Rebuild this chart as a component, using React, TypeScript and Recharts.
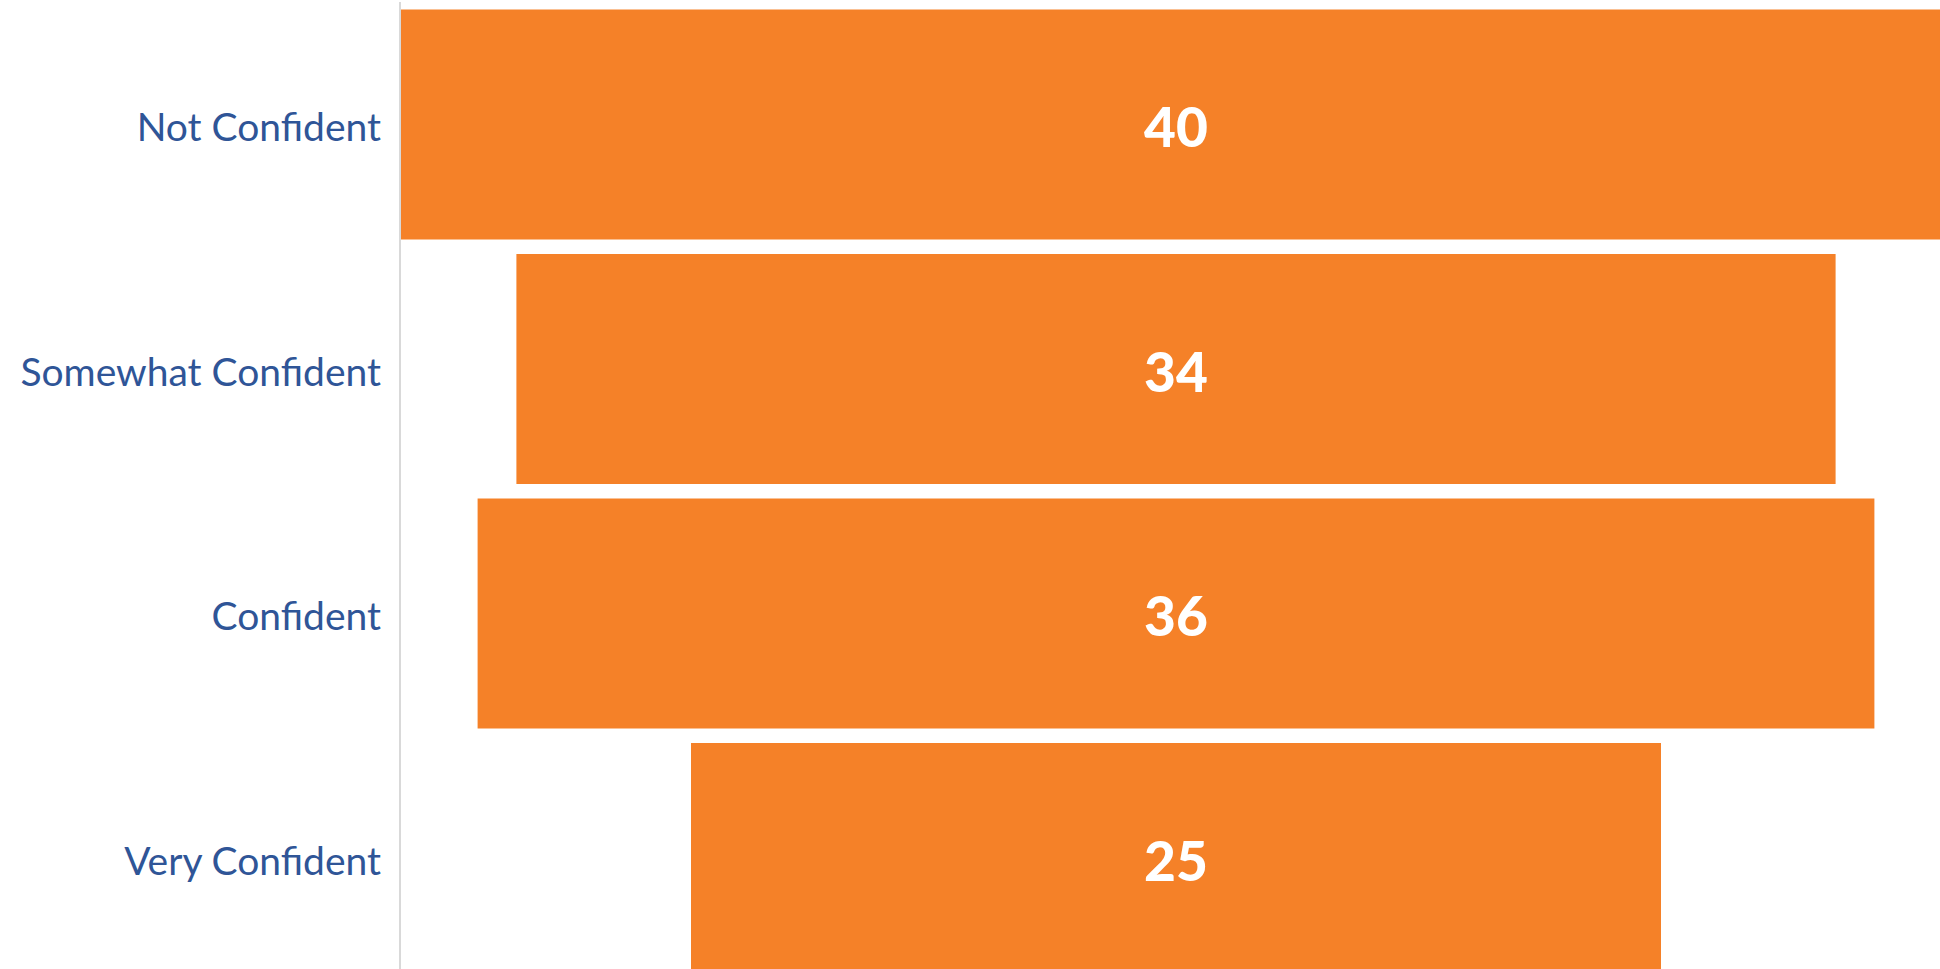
import { BarChart, Bar, XAxis, YAxis, LabelList } from 'recharts'

const CATEGORIES = ['Not Confident', 'Somewhat Confident', 'Confident', 'Very Confident']
const VALUES = [40, 34, 36, 25]

const ORANGE = '#F58128'
const BLUE = '#2F5597'
const FONT = 'Lato, "Open Sans", sans-serif'

const MAX = Math.max(...VALUES)
const data = CATEGORIES.map((name, i) => ({
  name,
  pad: (MAX - VALUES[i]) / 2,
  value: VALUES[i],
}))

export default function App() {
  return (
    <div style={{ position: 'fixed', left: 0, top: 0, width: 1940, height: 969, overflow: 'hidden', background: '#fff' }}>
      <BarChart
        layout="vertical"
        width={1952}
        height={980}
        data={data}
        margin={{ top: 2, right: 0, left: 0, bottom: 0 }}
        barCategoryGap={7.5}
      >
        <XAxis type="number" domain={[0, MAX]} hide />
        <YAxis
          type="category"
          dataKey="name"
          width={400}
          axisLine={{ stroke: '#d9d9d9', strokeWidth: 2 }}
          tickLine={false}
          tickMargin={13}
          tick={{ fontSize: 39, fill: BLUE, fontFamily: FONT, dy: 3 }}
        />
        <Bar dataKey="pad" stackId="f" fill="transparent" isAnimationActive={false} />
        <Bar dataKey="value" stackId="f" fill={ORANGE} isAnimationActive={false}>
          <LabelList
            dataKey="value"
            position="center"
            fill="#fff"
            dy={3}
            style={{ fontSize: 55, fontWeight: 900, fontFamily: FONT }}
          />
        </Bar>
      </BarChart>
    </div>
  )
}
